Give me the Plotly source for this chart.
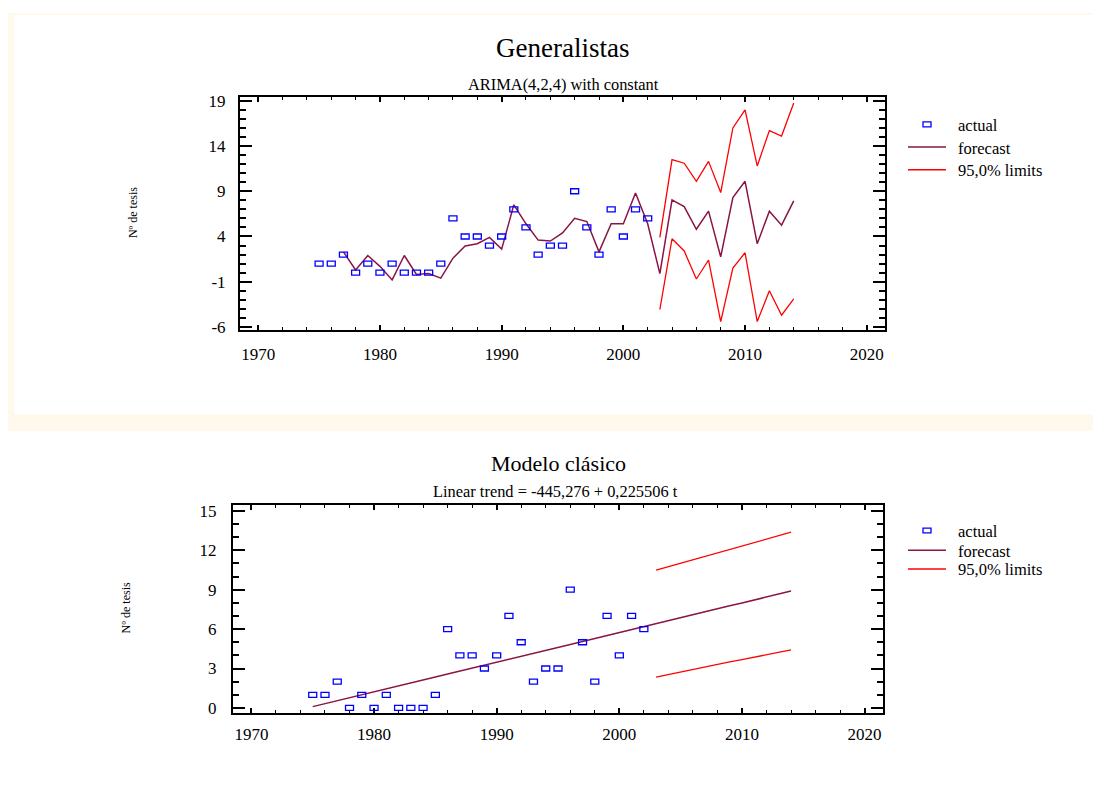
import plotly.graph_objects as go

# ---------------- data ----------------
years_actual = list(range(1975, 2003))
actual = [1, 1, 2, 0, 1, 0, 1, 0, 0, 0, 1, 6, 4, 4, 3, 4, 7, 5, 2, 3, 3, 9, 5, 2, 7, 4, 7, 6]

# ARIMA(4,2,4) panel
arima_years = list(range(1977, 2015))
arima_forecast = [2.3, 0.3, 1.9, 0.7, -0.8, 1.9, -0.2, -0.1, -0.6, 1.6,
                  2.95, 3.2, 3.9, 2.6, 7.5, 5.4, 3.6, 3.5, 4.4, 6.0,
                  5.65, 2.3, 5.4, 5.4, 8.8, 5.4, -0.1, 8.05, 7.3, 4.8,
                  6.8, 1.75, 8.3, 10.1, 3.2, 6.8, 5.25, 7.94]
limit_years = list(range(2003, 2015))
arima_upper = [3.9, 12.5, 12.1, 10.1, 12.3, 8.85, 16.0, 18.0, 11.8, 15.7, 15.1, 18.75]
arima_lower = [-4.07, 3.75, 2.4, -0.7, 1.4, -5.4, 0.5, 2.2, -5.4, -2.0, -4.7, -2.9]

# Linear trend panel
trend_years = list(range(1975, 2015))
trend_forecast = [0.10, 0.32, 0.55, 0.78, 1.00, 1.23, 1.45, 1.68, 1.90, 2.13,
                  2.35, 2.58, 2.80, 3.03, 3.26, 3.48, 3.71, 3.93, 4.16, 4.38,
                  4.61, 4.83, 5.06, 5.29, 5.51, 5.74, 5.96, 6.19, 6.41, 6.64,
                  6.86, 7.09, 7.32, 7.54, 7.77, 7.99, 8.22, 8.44, 8.67, 8.89]
trend_upper = [10.48, 10.74, 10.99, 11.25, 11.51, 11.77, 12.04, 12.30, 12.57, 12.83, 13.10, 13.37]
trend_lower = [2.34, 2.54, 2.73, 2.93, 3.12, 3.31, 3.50, 3.68, 3.87, 4.05, 4.24, 4.41]

titles = ["Generalistas", "Modelo clásico"]
subtitles = ["ARIMA(4,2,4) with constant", "Linear trend = -445,276 + 0,225506 t"]
legend_labels = ["actual", "forecast", "95,0% limits"]
y_title = "Nº de tesis"

# tick labels
x_tickvals = [1970, 1980, 1990, 2000, 2010, 2020]
x_ticktext = ["1970", "1980", "1990", "2000", "2010", "2020"]
y1_tickvals = [-6, -1, 4, 9, 14, 19]
y1_ticktext = ["-6", "-1", "4", "9", "14", "19"]
y2_tickvals = [0, 3, 6, 9, 12, 15]
y2_ticktext = ["0", "3", "6", "9", "12", "15"]

# ---------------- styling ----------------
PAGE_OFF = 8            # default body margin of the html page
W, H = 1101 - 2 * PAGE_OFF, 787 - 2 * PAGE_OFF
FONT = "Liberation Serif, Times New Roman, serif"
MAROON = "#8B1446"
RED = "#FF0000"
BLUE = "#0000FF"
CREAM = "#FFF8EC"


def px(x):
    return min(max((x - PAGE_OFF) / W, 0), 1)


def py(y):
    return min(max(1 - (y - PAGE_OFF) / H, 0), 1)


fig = go.Figure()

# forecast & limits lines
for xa, ya, fx, (fy, uy, ly) in [
    ("x", "y", arima_years, (arima_forecast, arima_upper, arima_lower)),
    ("x2", "y2", trend_years, (trend_forecast, trend_upper, trend_lower)),
]:
    fig.add_trace(go.Scatter(x=fx, y=fy, mode="lines", name="forecast",
                             line=dict(color=MAROON, width=1.5),
                             xaxis=xa, yaxis=ya, showlegend=False))
    fig.add_trace(go.Scatter(x=limit_years, y=uy, mode="lines", name="95,0% limits",
                             line=dict(color=RED, width=1.3),
                             xaxis=xa, yaxis=ya, showlegend=False))
    fig.add_trace(go.Scatter(x=limit_years, y=ly, mode="lines", name="95,0% limits",
                             line=dict(color=RED, width=1.3),
                             xaxis=xa, yaxis=ya, showlegend=False))

shapes = []
# cream frame behind top chart
shapes.append(dict(type="rect", xref="paper", yref="paper", layer="below",
                   x0=px(8), x1=1, y0=py(432), y1=1,
                   fillcolor=CREAM, line=dict(width=0)))
shapes.append(dict(type="rect", xref="paper", yref="paper", layer="below",
                   x0=px(14), x1=1, y0=py(415), y1=py(10),
                   fillcolor="white", line=dict(width=0)))

# actual values as small hollow rectangles anchored at data coordinates
for xr, yr in [("x", "y"), ("x2", "y2")]:
    for yr_, v in zip(years_actual, actual):
        shapes.append(dict(type="rect", xref=xr, yref=yr, layer="above",
                           xsizemode="pixel", ysizemode="pixel",
                           xanchor=yr_, yanchor=v,
                           x0=-4, x1=4, y0=-2.5, y1=2.5,
                           line=dict(color=BLUE, width=1.3),
                           fillcolor="rgba(0,0,0,0)"))

annotations = []
# titles
for (tx, ty, sz, txt) in [(562, 43, 27, titles[0]), (563, 81, 16.4, subtitles[0]),
                          (558, 465, 22, titles[1]), (555, 493, 16.4, subtitles[1])]:
    annotations.append(dict(x=px(tx), y=py(ty), xref="paper", yref="paper",
                            text=txt, showarrow=False, xanchor="center", yanchor="middle",
                            font=dict(family=FONT, size=sz, color="black")))
# y axis titles
for (tx, ty) in [(133, 211), (126, 612)]:
    annotations.append(dict(x=px(tx), y=py(ty), xref="paper", yref="paper",
                            text=y_title, showarrow=False, textangle=-90,
                            xanchor="center", yanchor="middle",
                            font=dict(family=FONT, size=12, color="black")))

# manual legends
for rows in [(121, 144, 167), (533, 553, 572)]:
    for i, (lab, ry) in enumerate(zip(legend_labels, rows)):
        annotations.append(dict(x=px(956), y=py(ry + 1), xref="paper", yref="paper",
                                text=lab, showarrow=False, xanchor="left", yanchor="middle",
                                font=dict(family=FONT, size=16.5, color="black")))
        if i == 0:
            shapes.append(dict(type="rect", xref="paper", yref="paper",
                               x0=px(923), x1=px(931), y0=py(ry + 2.5), y1=py(ry - 2.5),
                               line=dict(color=BLUE, width=1.3),
                               fillcolor="rgba(0,0,0,0)"))
        else:
            shapes.append(dict(type="line", xref="paper", yref="paper",
                               x0=px(908), x1=px(946), y0=py(ry), y1=py(ry),
                               line=dict(color=MAROON if i == 1 else RED, width=1.5)))

axis_common = dict(showline=True, linecolor="black", linewidth=2, mirror="ticks",
                   ticks="inside", tickcolor="black", showgrid=False, zeroline=False,
                   tickfont=dict(family=FONT, size=17, color="black"))

x_common = dict(axis_common, tickmode="array", tickvals=x_tickvals, ticktext=x_ticktext,
                ticklen=5, tickwidth=1.5, range=[1968.5, 2021.5],
                minor=dict(ticks="inside", tick0=1970, dtick=2, ticklen=3, tickwidth=1,
                           tickcolor="black", showgrid=False))

fig.update_layout(
    width=W, height=H,
    margin=dict(l=0, r=0, t=0, b=0),
    paper_bgcolor="white", plot_bgcolor="white",
    showlegend=False,
    xaxis=dict(x_common, domain=[px(240), px(885)], anchor="y", ticklabelstandoff=7),
    yaxis=dict(axis_common, domain=[py(330), py(93)], anchor="x",
               range=[-6.38, 19.44], tickmode="array",
               tickvals=y1_tickvals, ticktext=y1_ticktext,
               ticklen=12, tickwidth=2, ticklabelstandoff=9,
               minor=dict(ticks="inside", tick0=-6, dtick=1, ticklen=6, tickwidth=1.5,
                          tickcolor="black", showgrid=False)),
    xaxis2=dict(x_common, domain=[px(233), px(883)], anchor="y2", ticklabelstandoff=5),
    yaxis2=dict(axis_common, domain=[py(718), py(507)], anchor="x2",
                range=[-0.375, 15.45], tickmode="array",
                tickvals=y2_tickvals, ticktext=y2_ticktext,
                ticklen=12, tickwidth=2, ticklabelstandoff=11,
                minor=dict(ticks="inside", tick0=0, dtick=1, ticklen=6, tickwidth=1.5,
                           tickcolor="black", showgrid=False)),
    shapes=shapes,
    annotations=annotations,
)

fig.write_html("out.html")
